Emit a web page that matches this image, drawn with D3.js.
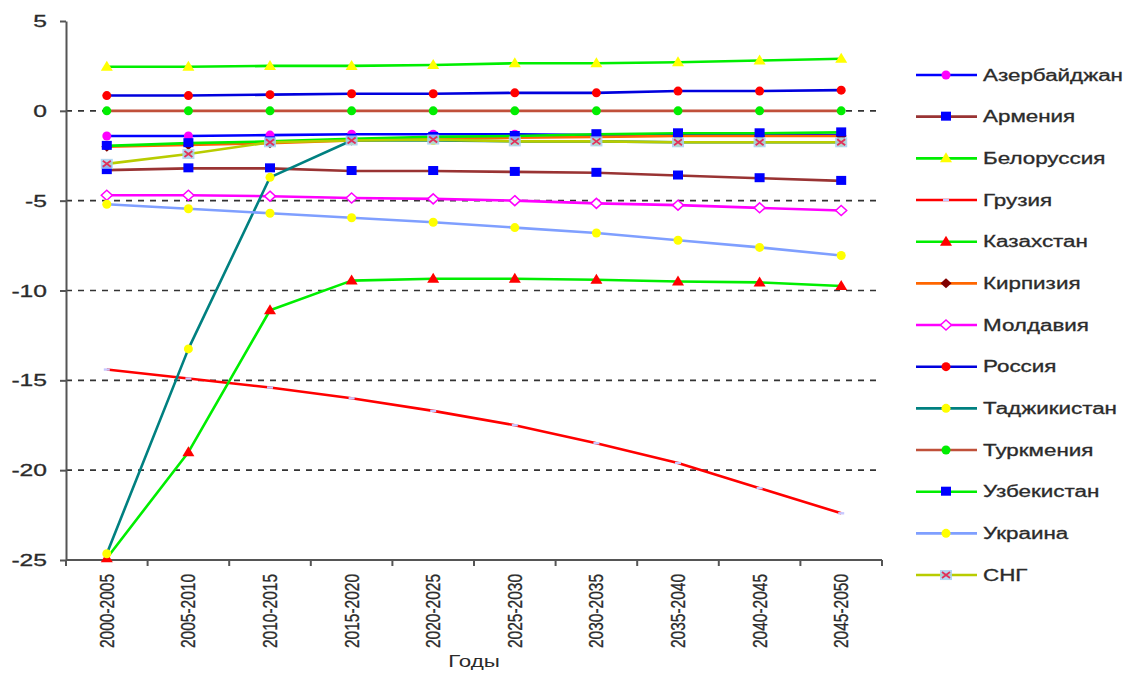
<!DOCTYPE html>
<html><head><meta charset="utf-8">
<script src="https://cdn.jsdelivr.net/npm/d3@7"></script>
<style>body{margin:0;background:#fff}svg{display:block}</style>
</head><body>
<svg id="chart" width="1137" height="673"></svg>
<script>
// ---- data ----
const categories = ["2000-2005","2005-2010","2010-2015","2015-2020","2020-2025","2025-2030","2030-2035","2035-2040","2040-2045","2045-2050"];
const yTickValues = [5, 0, -5, -10, -15, -20, -25];
const gridValues = [0, -5, -10, -15, -20];
const seriesNames = ["Азербайджан","Армения","Белоруссия","Грузия","Казахстан","Кирпизия","Молдавия","Россия","Таджикистан","Туркмения","Узбекистан","Украина","СНГ"];
const azerbaijan  = [-1.4, -1.4, -1.35, -1.3, -1.3, -1.3, -1.35, -1.35, -1.35, -1.35];
const armenia     = [-3.3, -3.2, -3.2, -3.35, -3.35, -3.4, -3.45, -3.6, -3.75, -3.9];
const belarus     = [2.45, 2.45, 2.5, 2.5, 2.55, 2.65, 2.65, 2.7, 2.8, 2.9];
const georgia     = [-14.4, -14.9, -15.4, -16.0, -16.7, -17.5, -18.5, -19.6, -21.0, -22.4];
const kazakhstan  = [-24.9, -19.0, -11.1, -9.45, -9.35, -9.35, -9.4, -9.5, -9.55, -9.75];
const kyrgyzstan  = [-2.0, -1.9, -1.8, -1.65, -1.55, -1.5, -1.45, -1.4, -1.4, -1.4];
const moldova     = [-4.7, -4.7, -4.75, -4.85, -4.9, -5.0, -5.15, -5.25, -5.4, -5.55];
const russia      = [0.85, 0.85, 0.9, 0.95, 0.95, 1.0, 1.0, 1.1, 1.1, 1.15];
const tajikistan  = [-24.65, -13.25, -3.7, -1.65, -1.65, -1.7, -1.7, -1.75, -1.75, -1.75];
const turkmenistan= [0, 0, 0, 0, 0, 0, 0, 0, 0, 0];
const uzbekistan  = [-1.95, -1.8, -1.7, -1.55, -1.45, -1.4, -1.3, -1.25, -1.25, -1.2];
const ukraine     = [-5.2, -5.45, -5.7, -5.95, -6.2, -6.5, -6.8, -7.2, -7.6, -8.05];
const cis         = [-2.95, -2.4, -1.75, -1.65, -1.6, -1.7, -1.7, -1.75, -1.75, -1.75];
const seriesValues = [azerbaijan, armenia, belarus, georgia, kazakhstan, kyrgyzstan, moldova, russia, tajikistan, turkmenistan, uzbekistan, ukraine, cis];
const xTitle = "Годы";

// ---- styles ----
const styles = [
  {line:"#0000ff", marker:"circle",   fill:"#ff00ff", stroke:"none"},
  {line:"#993333", marker:"square",   fill:"#0000ff", stroke:"none"},
  {line:"#00ee00", marker:"triangle", fill:"#ffff00", stroke:"none"},
  {line:"#ff0000", marker:"dash",     fill:"#c8c8ff", stroke:"none"},
  {line:"#00ee00", marker:"triangle", fill:"#ff0000", stroke:"none"},
  {line:"#ff6600", marker:"diamond",  fill:"#800000", stroke:"none"},
  {line:"#ff00ff", marker:"diamond",  fill:"#ffffff", stroke:"#ff00ff"},
  {line:"#0000dd", marker:"circle",   fill:"#ff0000", stroke:"none"},
  {line:"#008080", marker:"circle",   fill:"#ffff00", stroke:"none"},
  {line:"#c0503a", marker:"circle",   fill:"#00ee00", stroke:"none"},
  {line:"#00ee00", marker:"square",   fill:"#0000ff", stroke:"none"},
  {line:"#7f9fff", marker:"circle",   fill:"#ffff00", stroke:"none"},
  {line:"#b8cc00", marker:"xsquare",  fill:"#a6d0f0", stroke:"#e0305a"}
];

const svg = d3.select("#chart");
const FONT = "'Liberation Sans', Arial, sans-serif";
const SX = 1.4; // horizontal stretch of the reference's text
const TXT = "#2b2b2b";

const x = d3.scalePoint().domain(categories).range([66, 882]).padding(0.5);
const xb = d3.scaleBand().domain(categories).range([66, 882]);
const y = d3.scaleLinear().domain([-25, 5]).range([560, 21]);

// grid lines
svg.append("g").selectAll("line").data(gridValues).join("line")
  .attr("x1", 66).attr("x2", 882)
  .attr("y1", d => y(d)).attr("y2", d => y(d))
  .attr("stroke", "#333").attr("stroke-width", 1.6).attr("stroke-dasharray", "6,6");

// y axis
const yAxis = svg.append("g").attr("transform", "translate(66,0)")
  .call(d3.axisLeft(y).tickValues(yTickValues).tickSize(6).tickSizeOuter(0).tickFormat(d3.format("d")));
yAxis.select(".domain").attr("stroke", "#555").attr("stroke-width", 2);
yAxis.selectAll(".tick line").attr("stroke", "#555").attr("stroke-width", 2);
yAxis.selectAll(".tick text").remove();
svg.append("g").selectAll("text").data(yTickValues).join("text")
  .attr("transform", d => `translate(47,${y(d)}) scale(1.45,1)`)
  .attr("text-anchor", "end").attr("dy", "0.36em")
  .style("font-family", FONT).style("font-size", "17px").attr("fill", TXT)
  .attr("stroke", TXT).attr("stroke-width", 0.3)
  .text(d => d3.format("d")(d).replace("−", "-"));

// x axis
const xAxisG = svg.append("g").attr("transform", "translate(0,560)");
xAxisG.append("line").attr("x1", 66).attr("x2", 882).attr("stroke", "#555").attr("stroke-width", 2);
const tickPos = categories.map(c => xb(c)).concat([xb(categories[categories.length-1]) + xb.bandwidth()]);
xAxisG.selectAll("line.t").data(tickPos).join("line").attr("class", "t")
  .attr("x1", d => d).attr("x2", d => d).attr("y1", 0).attr("y2", 6)
  .attr("stroke", "#555").attr("stroke-width", 2);
xAxisG.selectAll("text").data(categories).join("text")
  .attr("transform", d => `translate(${x(d)},14) rotate(-90) scale(1,1.25)`)
  .attr("text-anchor", "end").attr("dy", "0.36em")
  .style("font-family", FONT).style("font-size", "15.5px").attr("fill", TXT)
  .attr("stroke", TXT).attr("stroke-width", 0.25)
  .text(d => d);
svg.append("text").attr("transform", `translate(474,667) scale(${SX},1)`)
  .attr("text-anchor", "middle")
  .style("font-family", FONT).style("font-size", "16px").attr("fill", TXT)
  .text(xTitle);

// marker drawing
function drawMarker(g, type, st, cx, cy) {
  if (type === "circle") {
    g.append("circle").attr("cx", cx).attr("cy", cy).attr("r", 4.5).attr("fill", st.fill);
  } else if (type === "square") {
    g.append("rect").attr("x", cx-5).attr("y", cy-5).attr("width", 10).attr("height", 9).attr("fill", st.fill);
  } else if (type === "triangle") {
    g.append("path").attr("d", `M${cx},${cy-6}L${cx+6},${cy+4}L${cx-6},${cy+4}Z`).attr("fill", st.fill);
  } else if (type === "diamond") {
    g.append("path").attr("d", `M${cx},${cy-5}L${cx+5.5},${cy}L${cx},${cy+5}L${cx-5.5},${cy}Z`)
      .attr("fill", st.fill).attr("stroke", st.stroke).attr("stroke-width", 1.5);
  } else if (type === "dash") {
    g.append("rect").attr("x", cx-3).attr("y", cy-1.2).attr("width", 6).attr("height", 2.4).attr("fill", st.fill);
  } else if (type === "xsquare") {
    g.append("rect").attr("x", cx-6).attr("y", cy-5).attr("width", 12).attr("height", 10).attr("fill", st.fill).attr("opacity", 0.85);
    g.append("path").attr("d", `M${cx-4},${cy-3}L${cx+4},${cy+3}M${cx-4},${cy+3}L${cx+4},${cy-3}`)
      .attr("stroke", st.stroke).attr("stroke-width", 1.8).attr("fill", "none");
  }
}

// series
const line = d3.line().x((d, i) => x(categories[i])).y(d => y(d));
const plot = svg.append("g");
seriesValues.forEach((vals, si) => {
  const st = styles[si];
  const g = plot.append("g");
  g.append("path").attr("d", line(vals)).attr("fill", "none")
    .attr("stroke", st.line).attr("stroke-width", 2.6).attr("stroke-linejoin", "round");
  vals.forEach((v, i) => drawMarker(g, st.marker, st, x(categories[i]), y(v)));
});

// legend
const legend = svg.append("g");
seriesNames.forEach((name, i) => {
  const st = styles[i];
  const cy = 75 + i * 41.67;
  const g = legend.append("g");
  g.append("line").attr("x1", 916).attr("x2", 977).attr("y1", cy).attr("y2", cy)
    .attr("stroke", st.line).attr("stroke-width", 2.6);
  drawMarker(g, st.marker, st, 946, cy);
  g.append("text").attr("transform", `translate(983,${cy}) scale(${SX},1)`).attr("dy", "0.36em")
    .style("font-family", FONT).style("font-size", "16px").attr("fill", TXT)
    .attr("stroke", TXT).attr("stroke-width", 0.3)
    .text(name);
});
</script>
</body></html>
